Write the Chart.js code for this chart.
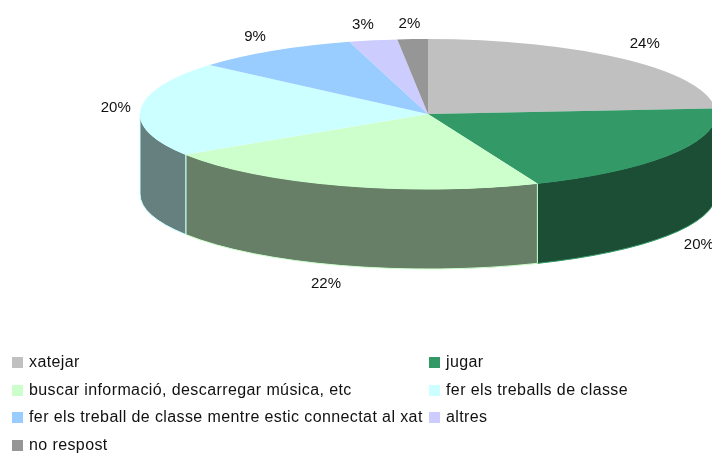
<!DOCTYPE html>
<html><head><meta charset="utf-8">
<style>html,body{margin:0;padding:0;background:#fff;overflow:hidden}canvas{display:block}</style>
<script src="https://cdn.jsdelivr.net/npm/chart.js@4"></script></head>
<body><canvas id="c" width="712" height="453"></canvas>
<script>
const categories = ["xatejar","jugar","buscar informació, descarregar música, etc","fer els treballs de classe","fer els treball de classe mentre estic connectat al xat","altres","no respost"];
const values = [23.8,20,22.1,20.4,9.3,2.7,1.7];
const topColors = ["#c0c0c0","#339966","#ccffcc","#ccffff","#99ccff","#ccccff","#969696"];
const sideColors = ["#606060","#1c4e36","#667f66","#667f7f","#4c667f","#66667f","#4b4b4b"];
const labelNudge = [[6,0],[7,1],[-9,-1],[-3,0],[-6,3],[-6,4],[-2,5]];

const SQUASH = 75/288, DEPTH = 80, INK = '#111';
const FONT = '15px "Liberation Sans", Arial, sans-serif';
const LEGEND_FONT = '16px "Liberation Sans", Arial, sans-serif';

const pie3d = {
  id:'pie3d',
  beforeDatasetsDraw(chart){
    const ctx = chart.ctx, arcs = chart.getDatasetMeta(0).data;
    const TAU = Math.PI*2;
    ctx.save();
    ctx.lineWidth = 1;
    const pieces = [];
    arcs.forEach((arc,i)=>{
      let s = arc.startAngle, e = arc.endAngle;
      while (s >= Math.PI) { s -= TAU; e -= TAU; }
      while (s < -Math.PI) { s += TAU; e += TAU; }
      [[s,e],[s-TAU,e-TAU],[s+TAU,e+TAU]].forEach(([a,b])=>{
        const a0 = Math.max(a,0), a1 = Math.min(b,Math.PI);
        if (a1 > a0) pieces.push({arc,i,a0,a1});
      });
    });
    pieces.forEach(({arc,i,a0,a1})=>{
      const R = arc.outerRadius, r = R*SQUASH;
      ctx.beginPath();
      ctx.ellipse(arc.x,arc.y,R,r,0,a0,a1);
      ctx.ellipse(arc.x,arc.y+DEPTH,R,r,0,a1,a0,true);
      ctx.closePath();
      ctx.fillStyle = sideColors[i];
      ctx.strokeStyle = topColors[i];
      ctx.fill(); ctx.stroke();
    });
    ctx.restore();
    const cy = arcs[0].y;
    ctx.save();
    ctx.translate(0,cy); ctx.scale(1,SQUASH); ctx.translate(0,-cy);
  },
  afterDatasetsDraw(chart){
    const ctx = chart.ctx, arcs = chart.getDatasetMeta(0).data;
    ctx.restore();
    ctx.save();
    ctx.font = FONT; ctx.fillStyle = INK;
    ctx.textAlign = 'center'; ctx.textBaseline = 'middle';
    arcs.forEach((arc,i)=>{
      const mid = (arc.startAngle+arc.endAngle)/2;
      const sin = Math.sin(mid);
      const x = arc.x + (arc.outerRadius+22)*Math.cos(mid) + labelNudge[i][0];
      const y = arc.y + (arc.outerRadius*SQUASH+20)*sin + (sin>0.2?DEPTH:0) + labelNudge[i][1];
      ctx.fillText(Math.round(values[i])+'%',x,y);
    });
    ctx.restore();
    ctx.save();
    ctx.font = LEGEND_FONT; ctx.textAlign='left'; ctx.textBaseline='middle';
    ctx.letterSpacing = '0.4px';
    const colX = [12,429], rowY = [363,391,418,446];
    categories.forEach((c,i)=>{
      const col = i%2, row = (i-col)/2;
      ctx.fillStyle = topColors[i];
      ctx.fillRect(colX[col],rowY[row]-6,11,11);
      ctx.fillStyle = INK;
      ctx.fillText(c,colX[col]+17,rowY[row]);
    });
    ctx.restore();
  }
};

new Chart(document.getElementById('c'),{
  type:'pie',
  data:{labels:categories,datasets:[{data:values,backgroundColor:topColors,borderWidth:0,clip:false}]},
  options:{
    responsive:false,animation:false,radius:288,
    layout:{padding:{left:144,right:0,top:0,bottom:225}},
    plugins:{legend:{display:false},tooltip:{enabled:false}}
  },
  plugins:[pie3d]
});
</script></body></html>
